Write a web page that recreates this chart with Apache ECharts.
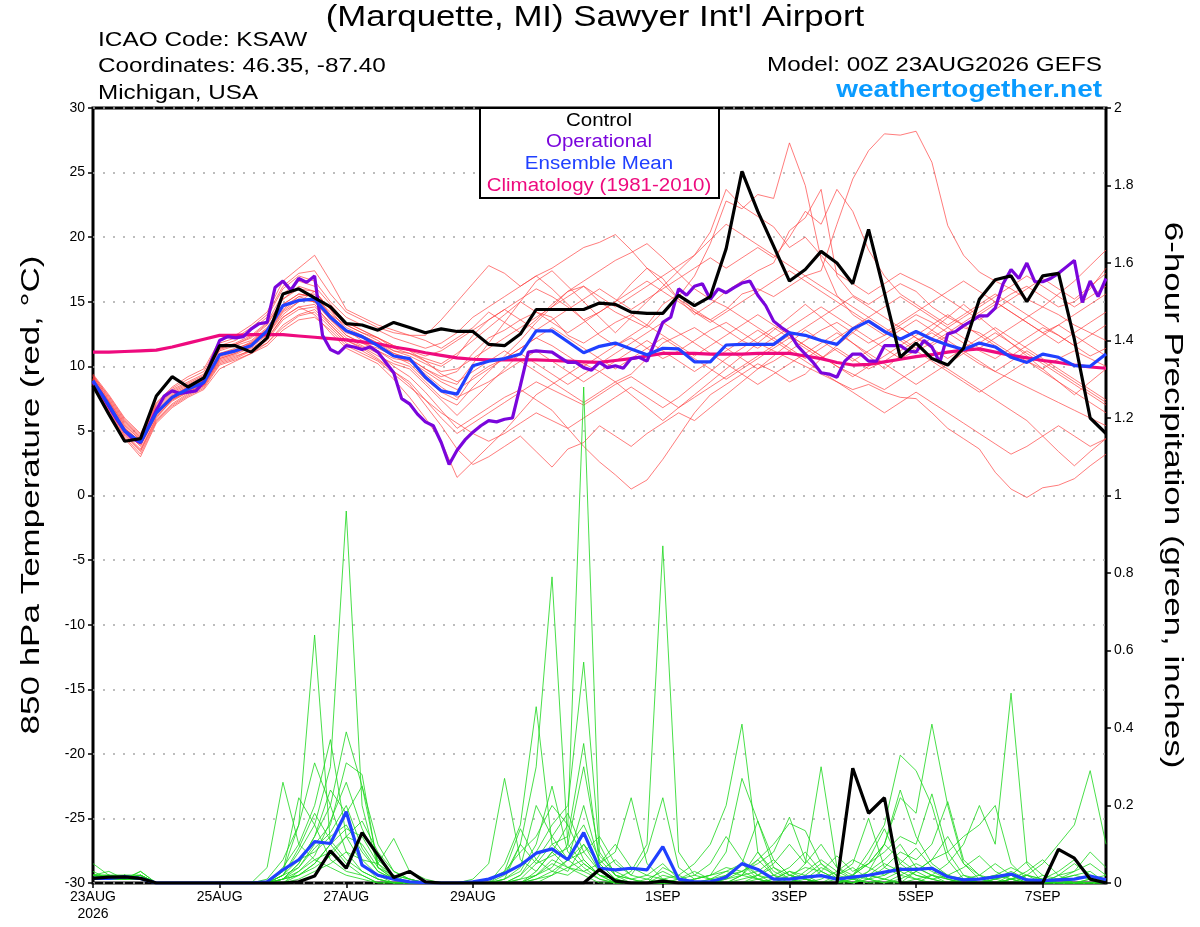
<!DOCTYPE html>
<html>
<head>
<meta charset="utf-8">
<title>KSAW GEFS 850 hPa temperature / precipitation</title>
<script src="https://cdn.jsdelivr.net/npm/echarts@6.0.0/dist/echarts.min.js"></script>
<style>
	html, body { margin: 0; padding: 0; background: #fff; }
	#main { width: 1200px; height: 927px; }
</style>
</head>
<body>
<div id="main"></div>
<script>
// forecast hours: 6-hourly for GEFS, 3-hourly for the operational run
var tickHours = [0, 48, 96, 144, 216, 264, 312, 360];
var tickNames = ['23AUG\n2026', '25AUG', '27AUG', '29AUG', '1SEP', '3SEP', '5SEP', '7SEP'];

// 850 hPa temperature, deg C (6-hourly, 0..384h)
var controlTemp = [8.5,6.3,4.2,4.4,7.7,9.2,8.4,9.1, 11.6,11.6,11.1,12.2,15.6,16.0,15.3,14.6, 13.3,13.2,12.8,13.4,13.0,12.6,12.9,12.7, 12.7,11.7,11.6,12.5,14.4,14.4,14.4,14.4, 14.9,14.8,14.2,14.1,14.1,15.5,14.7,15.4, 19.1,25.1,22.0,19.3,16.6,17.5,18.9,18.0, 16.4,20.6,15.7,10.7,11.8,10.6,10.1,11.4, 15.2,16.7,17.0,15.0,17.0,17.2,12.1,6.0,4.8];
var meanTemp = [8.9,7.0,5.0,4.1,6.4,7.6,8.25,8.75, 10.9,11.2,11.6,12.75,14.7,15.1,15.2,13.8, 12.75,12.3,11.6,10.8,10.6,9.15,8.1,7.85, 10.05,10.4,10.6,10.95,12.75,12.75,11.9,11.05, 11.55,11.8,11.35,10.9,11.4,11.35,10.35,10.35, 11.65,11.7,11.7,11.7,12.6,12.4,12.0,11.7, 12.9,13.5,12.7,12.1,12.7,12.1,11.65,11.3, 11.8,11.5,10.7,10.3,10.95,10.7,10.05,10.0,10.95];
var climTemp = [11.1,11.1,11.15,11.2,11.25,11.5,11.8,12.1, 12.4,12.4,12.45,12.45,12.45,12.35,12.25,12.15, 12.05,11.9,11.75,11.5,11.3,11.05,10.85,10.65, 10.55,10.5,10.5,10.5,10.5,10.45,10.4,10.35, 10.3,10.45,10.6,10.8,11.0,11.0,11.0,10.95, 10.95,10.95,11.0,11.0,11.0,10.8,10.6,10.3, 10.1,10.15,10.35,10.55,10.75,10.9,11.1,11.25, 11.35,11.1,10.85,10.65,10.45,10.3,10.1,9.95,9.85];
// operational run, 3-hourly
var opTemp = [8.8,7.9,6.9,5.9,5.0,4.4,4.1,5.3,6.6,7.7, 8.1,7.9,8.0,8.1,8.8,10.5,12.0,12.3,12.2,12.3, 12.9,13.3,13.4,16.1,16.6,15.9,16.8,16.5,17.0,12.4, 11.3,11.0,11.6,11.5,11.3,11.5,11.1,10.3,9.5,7.5, 7.1,6.3,5.7,5.4,4.1,2.4,3.5,4.3,4.9,5.4, 5.8,5.7,5.9,6.0,8.5,11.1,11.2,11.15,11.1,10.7, 10.3,10.3,9.9,9.7,10.3,9.9,10.05,9.85,10.6,10.7, 10.4,11.9,13.4,13.8,16.0,15.5,16.2,16.4,15.2,16.0, 15.7,16.1,16.45,16.6,15.5,14.7,13.5,13.0,12.6,11.6, 10.95,10.3,9.5,9.4,9.15,10.4,10.95,10.95,10.4,10.4, 11.6,11.6,11.6,11.2,11.1,12.0,11.5,10.3,12.5,12.7, 13.15,13.5,13.9,13.9,14.5,16.4,17.5,16.8,18.0,16.55, 16.55,16.8,17.2,17.7,18.2,14.95,16.6,15.4,16.8];

// ensemble members, 850 hPa temperature
var mem01 = [9.0,7.2,5.3,4.0,6.6,7.8,8.4,9.0, 11.2,11.6,12.0,13.0,14.8,15.6,15.4,14.2, 13.0,12.4,11.8,11.0,10.6,9.8,9.2,9.6, 11.0,12.2,12.8,13.6,14.2,13.8,12.4,11.8, 12.6,13.4,14.0,13.2,14.8,15.6,14.2,13.6, 14.4,15.6,16.0,15.4,16.2,17.0,17.4,21.0, 24.5,26.7,28.0,27.9,28.2,25.8,20.9,18.6, 17.3,16.6,16.0,15.2,14.6,14.0,13.2,12.6,12.0];
var mem02 = [8.7,6.8,4.8,3.6,6.0,7.4,8.1,8.6, 10.6,11.0,11.8,12.4,14.0,15.0,15.8,14.4, 12.8,12.0,11.2,10.4,10.0,8.8,7.6,7.0, 8.4,9.6,10.8,12.0,13.4,14.6,15.8,16.2, 15.0,14.2,13.6,13.0,14.2,15.4,17.0,19.5, 22.8,22.2,23.3,23.0,27.3,24.0,18.3,15.5, 14.0,13.2,12.4,13.0,12.2,11.6,12.4,13.0, 12.6,11.8,11.0,10.4,9.8,10.6,11.2,10.6,10.0];
var mem03 = [9.2,7.4,5.6,4.4,6.8,8.0,8.6,9.2, 11.4,11.8,12.4,13.4,15.6,16.6,16.2,14.8, 13.4,12.8,12.2,11.4,11.0,10.4,10.0,10.8, 12.4,13.6,14.4,15.2,16.0,15.4,14.6,13.6, 14.2,15.0,16.4,17.6,16.8,15.2,14.0,14.8, 15.8,16.6,17.4,18.0,20.5,21.5,23.7,17.0, 15.5,14.8,15.6,16.4,15.8,14.6,13.8,13.2, 14.0,14.8,15.6,16.2,15.4,14.6,15.0,16.0,17.6];
var mem04 = [8.8,7.0,5.0,3.8,6.2,7.4,8.0,8.6, 10.4,10.8,11.2,12.0,13.6,14.4,14.6,13.4, 12.2,11.6,11.0,10.0,9.2,8.0,6.6,5.2, 6.0,6.8,7.6,8.2,7.4,6.6,5.2,3.8, 2.6,1.6,0.5,1.2,2.8,4.6,6.4,7.8, 8.6,9.4,10.2,9.6,8.8,9.4,10.6,11.4, 10.6,9.8,10.4,11.2,12.0,12.6,11.8,11.0, 10.2,9.6,9.0,8.4,7.8,7.2,6.6,6.0,5.4];
var mem05 = [8.9,7.0,5.2,4.2,6.4,7.6,8.2,8.8, 10.8,11.2,11.4,12.2,13.8,14.6,14.0,12.6, 11.4,10.8,10.2,9.0,7.6,6.0,4.2,1.4, 2.6,3.8,5.0,6.4,7.8,8.6,9.4,10.2, 9.6,8.8,9.4,10.6,11.8,12.4,13.0,12.2, 11.4,10.6,9.8,10.4,11.2,12.0,12.8,13.4, 12.6,11.8,12.4,13.2,14.0,13.4,12.6,11.8, 11.2,10.6,11.4,12.2,13.0,12.4,11.6,10.8,11.4];
var mem06 = [9.1,7.3,5.4,4.3,6.5,7.7,8.3,8.9, 11.0,11.4,11.8,12.8,14.6,15.2,15.0,13.6, 12.6,12.2,11.6,10.8,10.2,9.0,8.0,7.4, 9.2,10.0,10.6,11.4,12.2,11.6,10.8,10.0, 10.8,11.6,12.2,11.4,10.6,11.2,12.0,12.8, 13.4,12.6,11.8,11.2,10.6,10.0,9.4,8.8, 8.2,8.6,8.0,7.6,7.5,6.4,5.2,4.4, 3.6,1.8,0.5,-0.15,0.6,0.8,1.3,2.3,3.2];
var mem07 = [8.6,6.6,4.6,3.4,5.8,7.0,7.8,8.4, 10.2,10.6,11.2,11.8,13.2,14.0,14.4,13.2, 12.0,11.4,10.6,9.6,8.8,7.4,6.0,4.8, 5.6,6.4,7.2,8.0,8.8,8.2,7.6,7.0, 7.8,8.6,9.2,8.4,7.6,6.8,7.6,8.4, 9.2,10.0,10.8,11.6,12.4,11.6,10.8,10.0, 9.4,8.8,8.2,9.0,9.8,10.6,9.8,9.0, 8.2,7.4,6.6,5.8,4.6,3.4,2.3,3.4,4.4];
var mem08 = [9.3,7.6,5.8,4.6,7.0,8.2,8.8,9.4, 11.6,12.0,12.8,13.8,16.0,17.0,16.6,15.0, 13.8,13.2,12.8,12.2,11.8,11.4,11.8,12.6, 13.8,14.6,15.4,16.2,17.0,17.6,18.4,19.2, 19.6,20.2,19.0,17.6,16.4,15.2,14.4,13.6, 12.8,12.0,11.4,12.2,13.0,13.8,14.6,13.8, 13.0,12.2,11.4,10.6,11.2,11.8,12.6,13.4, 14.2,15.0,14.2,13.4,12.6,13.2,14.0,14.8,15.6];
var mem09 = [9.4,7.8,6.0,4.8,7.2,8.4,9.2,9.8, 12.0,12.4,13.2,14.2,16.6,17.6,18.6,16.6, 14.4,13.8,13.2,12.8,12.4,12.0,11.4,12.2, 13.0,14.2,13.4,12.6,13.6,14.8,15.8,16.6, 17.4,18.2,18.8,19.5,18.4,17.2,16.0,15.2, 14.6,13.8,13.0,12.2,11.4,10.6,11.4,12.2, 13.0,13.8,14.6,15.4,14.6,13.8,13.0,12.2, 11.4,12.2,13.0,13.8,14.6,15.6,16.6,17.8,19.0];
var mem10 = [8.5,6.4,4.4,3.0,5.6,6.8,7.6,8.2, 9.8,10.4,11.0,11.6,12.8,13.6,13.8,12.8, 11.6,11.0,10.4,9.4,8.4,7.4,6.4,5.6, 4.8,4.2,4.8,5.6,6.4,5.8,5.2,6.0, 6.8,7.6,8.4,7.6,6.8,7.6,8.6,9.6, 10.6,11.4,12.2,13.0,12.2,11.4,10.6,11.6, 12.6,13.6,12.8,12.0,11.2,10.4,9.6,8.8, 8.0,8.8,9.6,10.4,9.6,8.8,8.0,7.2,6.4];
var mem11 = [9.0,7.1,5.1,4.1,6.3,7.5,8.2,8.7, 10.7,11.1,11.7,12.6,14.4,15.4,15.6,14.0, 13.2,12.6,12.0,11.2,10.8,10.2,9.6,9.8, 10.6,11.4,12.2,13.0,13.8,14.6,15.4,16.2, 15.4,14.6,15.4,16.2,17.0,17.8,18.6,20.4, 23.7,22.4,21.6,20.8,19.2,20.0,18.6,17.2, 16.4,15.6,16.4,17.2,16.6,16.0,15.2,14.4, 13.6,14.4,15.2,16.0,16.8,16.0,15.2,16.2,17.2];
var mem12 = [8.8,6.9,4.9,3.9,6.1,7.3,8.0,8.5, 10.5,10.9,11.5,12.4,14.2,15.0,15.2,13.8, 12.4,11.8,11.2,10.6,10.4,9.6,8.8,8.2, 9.0,9.8,10.6,11.4,12.2,13.0,12.2,11.4, 10.6,9.8,10.6,11.4,12.2,11.4,10.6,9.8, 9.0,9.8,10.6,11.4,12.2,13.0,13.8,14.6, 15.4,14.6,13.8,13.0,12.2,11.4,10.6,11.4, 12.2,13.0,12.2,11.4,10.6,9.8,9.0,8.2,7.4];
var mem13 = [9.1,7.2,5.2,4.2,6.5,7.7,8.4,8.9, 11.0,11.3,11.9,12.9,14.6,15.4,15.0,13.8, 12.8,12.4,11.8,11.2,11.0,10.6,10.2,11.0, 12.0,13.0,14.0,15.0,14.2,13.4,12.6,13.4, 14.2,15.0,15.8,16.6,15.8,15.0,14.2,13.4, 14.2,15.0,15.8,16.6,17.4,16.6,15.8,15.0, 14.2,13.4,12.6,13.4,14.2,15.0,15.8,16.6, 15.8,15.0,14.2,13.4,12.6,11.8,12.6,13.4,14.2];
var mem14 = [8.7,6.7,4.7,3.5,5.9,7.1,7.9,8.5, 10.3,10.7,11.3,12.1,13.8,14.6,14.8,13.2, 12.0,11.5,10.8,10.2,9.8,8.6,7.4,6.2, 7.4,8.6,9.8,11.0,10.2,9.4,8.6,9.4, 10.2,11.0,11.8,12.6,13.4,12.6,11.8,11.0, 10.2,9.4,8.6,9.4,10.2,11.0,11.8,12.6, 11.8,11.0,10.2,9.4,8.6,9.4,10.2,11.0, 11.8,12.6,11.8,11.0,10.2,9.4,8.6,7.8,7.0];
var mem15 = [9.2,7.5,5.7,4.5,6.9,8.1,8.7,9.3, 11.4,11.7,12.2,13.2,15.2,16.2,15.8,14.4, 13.2,12.6,12.2,11.6,11.2,10.4,9.4,8.8, 9.6,10.4,11.2,10.4,9.6,8.8,8.0,7.2, 8.0,8.8,7.8,6.8,5.8,6.8,7.8,8.8, 9.8,10.8,11.8,12.8,13.8,14.8,13.8,12.8, 11.8,10.8,9.8,10.8,11.8,12.8,13.8,14.8, 13.8,12.8,11.8,10.8,9.8,8.8,7.8,8.8,9.8];
var mem16 = [8.9,7.0,5.0,4.0,6.3,7.5,8.2,8.7, 10.8,11.2,11.8,12.9,14.8,15.6,15.4,14.0, 12.8,12.2,11.6,11.0,10.6,9.8,9.0,8.6, 10.2,11.8,13.4,15.0,16.6,17.4,16.2,15.0, 13.8,12.6,13.8,15.0,16.2,17.4,18.6,19.8, 21.0,20.2,19.4,18.6,17.8,17.0,16.2,15.4, 14.6,13.8,13.0,12.2,11.4,12.2,13.0,13.8, 14.6,15.4,16.2,17.0,16.2,15.4,14.6,15.4,16.2];
var mem17 = [8.6,6.5,4.5,3.2,5.7,6.9,7.7,8.3, 10.1,10.5,11.0,11.8,13.0,13.9,14.2,13.0, 11.8,11.2,10.5,9.6,8.6,7.0,5.4,3.6, 2.4,3.0,3.8,4.6,3.4,2.2,3.6,4.1, 5.4,4.6,3.8,4.8,5.6,6.4,5.8,6.8, 7.8,8.8,9.8,10.8,11.8,12.8,12.0,11.2, 10.4,11.2,12.0,12.8,13.6,12.8,12.0,11.2, 10.4,9.6,10.4,11.2,10.4,9.6,8.8,8.0,7.2];
var mem18 = [9.3,7.7,5.9,4.7,7.1,8.3,9.0,9.6, 11.8,12.2,13.0,14.0,16.2,17.2,17.4,15.6, 14.2,13.6,13.0,12.6,12.4,12.4,13.6,15.0, 16.4,17.8,17.2,16.2,17.0,16.0,14.8,13.6, 12.4,11.6,12.4,13.2,12.4,11.6,10.8,11.6, 12.4,13.2,14.0,13.2,12.4,11.6,10.8,10.0, 9.2,10.0,10.8,11.6,12.4,13.2,14.0,13.2, 12.4,11.6,10.8,11.6,12.4,13.2,12.4,11.6,10.8];
var mem19 = [8.9,7.1,5.1,4.0,6.3,7.5,8.1,8.7, 10.6,11.0,11.6,12.5,14.3,15.2,15.0,13.6, 12.4,11.8,11.4,10.8,10.4,9.4,8.4,7.6, 8.2,8.8,9.6,10.4,11.2,10.4,9.6,8.8, 9.6,10.4,11.2,12.0,11.2,10.4,9.6,10.4, 11.2,12.0,12.8,12.0,11.2,10.4,9.6,8.8, 8.0,7.2,6.4,7.2,8.0,7.2,6.4,5.6, 4.8,4.0,3.2,3.8,4.6,5.4,4.6,3.8,4.4];
var mem20 = [9.0,7.3,5.5,4.3,6.7,7.9,8.5,9.1, 11.3,11.7,12.3,13.3,15.2,16.0,15.8,14.4, 13.4,12.8,12.2,11.6,11.2,10.8,11.2,12.0, 12.8,13.6,14.4,13.6,12.8,13.6,14.4,15.2, 16.0,15.2,14.4,15.2,16.0,16.8,17.6,18.4, 17.6,18.4,19.2,18.4,20.0,22.0,21.0,23.7, 22.0,19.0,17.0,15.6,14.8,14.0,13.2,14.0, 14.8,15.6,14.8,14.0,13.2,12.4,11.6,12.4,13.2];
var tempMembers = [mem01, mem02, mem03, mem04, mem05, mem06, mem07, mem08, mem09, mem10, mem11, mem12, mem13, mem14, mem15, mem16, mem17, mem18, mem19, mem20];

// 6-hour precipitation, inches
var controlPrcp = [0.012,0.015,0.016,0.012,0,0,0,0, 0,0,0,0,0,0.003,0.018,0.083, 0.038,0.13,0.072,0.014,0.03,0.003,0,0, 0,0,0,0,0,0,0,0, 0.035,0.005,0,0,0.005,0,0,0, 0,0,0,0,0,0,0,0, 0.296,0.18,0.22,0,0,0,0,0, 0,0,0,0,0,0.087,0.064,0.01,0];
var meanPrcp = [0.012,0.012,0.016,0.012,0,0,0,0, 0,0,0,0.003,0.034,0.06,0.107,0.102, 0.184,0.046,0.02,0.01,0.003,0.001,0,0, 0.003,0.01,0.025,0.046,0.077,0.088,0.06,0.13, 0.038,0.034,0.038,0.034,0.094,0.01,0.003,0.003, 0.015,0.05,0.035,0.01,0.01,0.015,0.019,0.01, 0.015,0.02,0.028,0.035,0.035,0.038,0.016,0.008, 0.01,0.016,0.023,0.008,0.006,0.008,0.01,0.018,0.008];
var pcp01 = [0.02,0.01,0.02,0.01,0,0,0,0, 0,0,0,0,0.02,0.08,0.15,0.30, 0.96,0.20,0.04,0.01,0,0,0,0, 0,0.01,0.03,0.08,0.12,0.20,0.15,1.28, 0.10,0.02,0,0,0.01,0,0,0, 0.02,0.05,0.01,0,0,0.02,0.05,0.01, 0,0.03,0.10,0.22,0.18,0.41,0.20,0.05, 0.01,0,0,0,0.02,0.01,0,0,0];
var pcp02 = [0.01,0.02,0.01,0.02,0,0,0,0, 0,0,0,0,0.03,0.15,0.64,0.10, 0.05,0.02,0,0,0,0,0,0, 0,0,0.02,0.10,0.30,0.79,0.10,0.05, 0.02,0,0,0,0,0.01,0.03,0.01, 0,0,0.02,0.04,0.01,0,0,0, 0.01,0.02,0.01,0,0,0.02,0.05,0.10, 0.20,0.10,0.49,0.05,0,0,0,0.01,0];
var pcp03 = [0.05,0.02,0.01,0.03,0,0,0,0, 0,0,0,0,0.04,0.10,0.20,0.37, 0.12,0.05,0.01,0,0,0,0,0, 0,0,0.05,0.15,0.455,0.10,0.06,0.20, 0.05,0.01,0,0,0,0,0,0, 0,0.02,0.06,0.02,0,0,0.03,0.01, 0.02,0.08,0.15,0.33,0.29,0.20,0.06,0.01, 0,0,0,0,0,0.01,0.02,0.03,0];
var pcp04 = [0.02,0.02,0.01,0.02,0,0,0,0, 0,0,0,0,0.01,0.05,0.12,0.20, 0.39,0.25,0.05,0.01,0,0,0,0, 0,0,0,0.02,0.08,0.15,0.20,0.57, 0.08,0.02,0.01,0,0,0,0,0, 0,0.01,0.02,0.05,0.10,0.05,0.30,0.04, 0.01,0,0,0.02,0.04,0.02,0,0, 0,0.01,0.02,0,0,0,0,0,0];
var pcp05 = [0.01,0.01,0.02,0.01,0,0,0,0, 0,0,0,0.01,0.06,0.15,0.31,0.20, 0.08,0.03,0.01,0,0,0,0,0, 0,0,0,0.01,0.05,0.10,0.12,0.36, 0.05,0.01,0,0,0.02,0.01,0,0, 0,0,0,0.01,0.03,0.02,0,0, 0.02,0.05,0.08,0.12,0.10,0.23,0.08,0.02, 0,0,0.01,0,0,0.02,0.05,0.02,0];
var pcp06 = [0.03,0.01,0.01,0.02,0,0,0,0, 0,0,0,0.04,0.26,0.10,0.06,0.04, 0.02,0.01,0,0,0,0,0,0, 0.01,0.05,0.27,0.06,0.03,0.08,0.04,0.02, 0,0,0,0,0,0,0,0.01, 0.03,0.05,0.02,0,0,0.01,0.04,0.02, 0.05,0.167,0.04,0.02,0.01,0,0,0, 0.01,0.02,0.04,0.02,0,0,0,0,0];
var pcp07 = [0.01,0.02,0.02,0.01,0,0,0,0, 0,0,0,0,0.03,0.22,0.15,0.06, 0.03,0.02,0,0,0,0,0,0, 0,0,0.01,0.03,0.10,0.25,0.08,0.04, 0.01,0,0,0,0,0,0,0, 0.01,0.03,0.01,0,0,0.03,0.06,0.03, 0.01,0.02,0.01,0,0.03,0.06,0.08,0.12, 0.15,0.20,0.05,0.01,0,0,0,0,0];
var pcp08 = [0.02,0.01,0.01,0.03,0,0,0,0, 0,0,0,0,0.02,0.04,0.10,0.15, 0.31,0.28,0.04,0.01,0,0,0,0, 0,0,0,0,0.01,0.03,0.06,0.10, 0.05,0.08,0.22,0.05,0.01,0.02,0.05,0.10, 0.20,0.41,0.08,0.02,0.01,0,0,0.02, 0.04,0.01,0,0,0.01,0.02,0.01,0, 0,0,0.01,0.02,0.01,0,0,0,0.01];
var pcp09 = [0.01,0.01,0.02,0.02,0,0,0,0, 0,0,0,0,0,0.02,0.05,0.10, 0.18,0.25,0.10,0.03,0.01,0,0,0, 0,0,0,0,0.01,0.02,0.04,0.06, 0.02,0.01,0.03,0.10,0.87,0.08,0.02,0.01, 0,0,0,0.01,0.03,0.01,0,0, 0,0.01,0.02,0.04,0.02,0.01,0,0.02, 0.01,0,0.01,0.02,0.05,0.10,0.15,0.29,0.10];
var pcp10 = [0.02,0.03,0.01,0.01,0,0,0,0, 0,0,0,0,0.01,0.05,0.12,0.24, 0.18,0.06,0.02,0,0,0,0,0, 0,0,0,0,0.02,0.05,0.03,0.10, 0.03,0.06,0.02,0.08,0.22,0.04,0.01,0.02, 0.08,0.27,0.16,0.04,0.02,0.01,0,0, 0.01,0.03,0.06,0.10,0.04,0.02,0.01,0, 0,0,0.02,0.055,0.02,0,0,0.01,0.02];
var pcp11 = [0.01,0.01,0.01,0.01,0,0,0,0, 0,0,0,0,0,0.01,0.03,0.05, 0.08,0.06,0.05,0.115,0.03,0.01,0,0, 0,0,0.03,0.14,0.06,0.03,0.02,0.05, 0.02,0.01,0,0,0,0,0.01,0.02, 0.04,0.03,0.06,0.10,0.154,0.135,0.05,0.02, 0.01,0,0.01,0.03,0.05,0.03,0.01,0, 0,0.01,0.03,0.01,0,0,0,0,0];
var pcp12 = [0.02,0.01,0.02,0.01,0,0,0,0, 0,0,0,0,0.02,0.06,0.08,0.12, 0.15,0.08,0.03,0.01,0,0,0,0, 0,0,0,0.01,0.02,0.06,0.04,0.03, 0.05,0.10,0.04,0.02,0.01,0,0,0, 0.02,0.05,0.16,0.06,0.02,0.01,0,0, 0.02,0.05,0.10,0.24,0.12,0.05,0.02,0, 0,0.01,0.02,0.01,0,0.01,0.02,0.01,0];
var pcp13 = [0.01,0.02,0.01,0.02,0,0,0,0, 0,0,0,0,0.01,0.03,0.06,0.08, 0.12,0.10,0.04,0.02,0.01,0,0,0, 0,0,0,0,0.03,0.08,0.15,0.06, 0.02,0,0,0.01,0.03,0.01,0,0.01, 0.02,0.03,0.05,0.08,0.17,0.06,0.02,0.01, 0,0.01,0.04,0.08,0.06,0.10,0.21,0.06, 0.02,0,0,0.02,0.01,0,0,0,0];
var pcp14 = [0.02,0.02,0.02,0.02,0,0,0,0, 0,0,0,0,0.01,0.02,0.05,0.10, 0.14,0.12,0.05,0.02,0.01,0,0,0, 0,0,0,0,0,0.02,0.06,0.08, 0.12,0.05,0.02,0.01,0,0,0.01,0.02, 0.03,0.02,0.01,0,0.02,0.04,0.03,0.07, 0.03,0.05,0.10,0.06,0.03,0.01,0,0, 0.01,0.02,0.01,0,0,0.02,0.03,0.05,0.02];
var pcp15 = [0.01,0.02,0.01,0.01,0,0,0,0, 0,0,0,0,0.01,0.04,0.09,0.13, 0.20,0.09,0.03,0.01,0,0,0,0, 0,0,0.01,0.10,0.05,0.07,0.09,0.15, 0.06,0.02,0.01,0,0,0.01,0.02,0.05, 0.12,0.06,0.02,0.01,0,0,0.01,0.03, 0.06,0.04,0.02,0.05,0.09,0.04,0.02,0.01, 0,0,0.01,0.03,0.06,0.02,0,0,0];
var pcp16 = [0.02,0.01,0.01,0.02,0,0,0,0, 0,0,0,0,0,0.03,0.07,0.16, 0.26,0.14,0.06,0.02,0,0,0,0, 0,0,0,0.02,0.06,0.12,0.18,0.08, 0.03,0.01,0,0,0.04,0.02,0,0, 0,0.02,0.08,0.03,0.01,0.05,0.10,0.04, 0.02,0.01,0,0.01,0.03,0.06,0.12,0.05, 0.02,0.01,0,0,0,0.01,0.03,0.08,0.04];
var pcp17 = [0.01,0.01,0.02,0.01,0,0,0,0, 0,0,0,0,0.02,0.09,0.18,0.11, 0.06,0.03,0.01,0,0,0,0,0, 0,0,0.01,0.04,0.20,0.12,0.06,0.03, 0.01,0,0,0,0,0,0,0, 0.01,0.02,0.03,0.06,0.02,0.01,0,0.01, 0.02,0.06,0.14,0.05,0.02,0.01,0.02,0.04, 0.07,0.03,0.01,0,0,0,0.01,0.02,0];
var pcp18 = [0.02,0.02,0.01,0.01,0,0,0,0, 0,0,0,0,0.01,0.02,0.04,0.07, 0.12,0.16,0.08,0.03,0.01,0,0,0, 0,0,0,0,0.02,0.04,0.10,0.30, 0.07,0.03,0.01,0.02,0.05,0.01,0,0, 0,0,0.01,0.02,0.04,0.08,0.03,0.01, 0,0.02,0.05,0.03,0.01,0,0,0.01, 0.02,0.05,0.02,0,0.01,0.03,0.06,0.02,0];
var prcpMembers = [pcp01, pcp02, pcp03, pcp04, pcp05, pcp06, pcp07, pcp08, pcp09, pcp10, pcp11, pcp12, pcp13, pcp14, pcp15, pcp16, pcp17, pcp18];

var FONT = "'Liberation Sans', Arial, Helvetica, sans-serif";

function pairs(arr, step) {
	var out = [];
	for (var i = 0; i < arr.length; i++) {
		out.push([i * step, arr[i]]);
	}
	return out;
}

function thinLine(name, data, axis, color) {
	return {
		name: name,
		type: 'line',
		yAxisIndex: axis,
		data: data,
		showSymbol: false,
		silent: true,
		z: 2,
		lineStyle: { color: color, width: 0.9 }
	};
}

function boldLine(name, data, axis, color, z) {
	return {
		name: name,
		type: 'line',
		yAxisIndex: axis,
		data: data,
		showSymbol: false,
		silent: true,
		z: z,
		lineStyle: { color: color, width: 3.2 }
	};
}

// header / legend text, stretched sideways like the original plot's font
function label(x, y, text, size, color, align, sx, extra) {
	var el = {
		type: 'text',
		x: x,
		y: y,
		scaleX: sx,
		z: 101,
		style: { text: text, font: size + 'px ' + FONT, fill: color, textAlign: align, textVerticalAlign: 'middle' }
	};
	if (extra) {
		for (var k in extra) el[k] = extra[k];
	}
	return el;
}

var series = [];
for (var m = 0; m < tempMembers.length; m++) {
	series.push(thinLine('t' + m, pairs(tempMembers[m], 6), 0, 'rgba(255,60,60,0.75)'));
}
for (var p = 0; p < prcpMembers.length; p++) {
	series.push(thinLine('p' + p, pairs(prcpMembers[p], 6), 1, 'rgba(30,215,30,0.9)'));
}
series.push(boldLine('Climatology', pairs(climTemp, 6), 0, '#ee0a7e', 4));
series.push(boldLine('Operational', pairs(opTemp, 3), 0, '#7a05dc', 5));
series.push(boldLine('Ensemble Mean', pairs(meanTemp, 6), 0, '#2040ff', 6));
series.push(boldLine('Control', pairs(controlTemp, 6), 0, '#000000', 7));
series.push(boldLine('Mean precip', pairs(meanPrcp, 6), 1, '#2040ff', 6));
series.push(boldLine('Control precip', pairs(controlPrcp, 6), 1, '#000000', 7));

var myChart = echarts.init(document.getElementById('main'));

var option = {
	animation: false,
	backgroundColor: '#fff',
	textStyle: { fontFamily: FONT },
	grid: {
		left: 93,
		right: 94,
		top: 108,
		bottom: 44,
		show: true,
		borderColor: '#000',
		borderWidth: 3,
		backgroundColor: 'transparent'
	},
	xAxis: {
		type: 'value',
		min: 0,
		max: 384,
		splitLine: { show: false },
		axisLine: { show: false, onZero: false },
		axisTick: { show: true, customValues: tickHours, length: 5, lineStyle: { color: '#000', width: 1.5 } },
		axisLabel: {
			customValues: tickHours,
			color: '#000',
			fontSize: 14,
			lineHeight: 17,
			margin: 6,
			formatter: function(v) {
				var k = tickHours.indexOf(v);
				return k >= 0 ? tickNames[k] : '';
			}
		}
	},
	yAxis: [{
		type: 'value',
		position: 'left',
		min: -30,
		max: 30,
		interval: 5,
		axisLine: { show: false },
		axisTick: { show: true, length: 5, lineStyle: { color: '#000', width: 1.5 } },
		axisLabel: { color: '#000', fontSize: 14, margin: 8 },
		splitLine: { show: true, lineStyle: { color: '#a8a8a8', width: 1.5, type: [2, 8] } }
	}, {
		type: 'value',
		position: 'right',
		min: 0,
		max: 2,
		interval: 0.2,
		axisLine: { show: false },
		axisTick: { show: true, length: 5, lineStyle: { color: '#000', width: 1.5 } },
		axisLabel: { color: '#000', fontSize: 14, margin: 8 },
		splitLine: { show: false }
	}],
	graphic: [
		label(595, 18, "(Marquette, MI) Sawyer Int'l Airport", 29, '#000', 'center', 1.2),
		label(98, 40, 'ICAO Code: KSAW', 20, '#000', 'left', 1.22),
		label(98, 66, 'Coordinates: 46.35, -87.40', 20, '#000', 'left', 1.215),
		label(98, 93, 'Michigan, USA', 20, '#000', 'left', 1.21),
		label(1102, 65, 'Model: 00Z 23AUG2026 GEFS', 20, '#000', 'right', 1.215),
		label(1102, 90, 'weathertogether.net', 'bold 24', '#0a9bff', 'right', 1.165),
		label(32, 495, '850 hPa Temperature (red, \u00b0C)', 25, '#000', 'center', 1.4, { rotation: Math.PI / 2 }),
		label(1172, 495, '6-hour Precipitation (green, inches)', 25, '#000', 'center', 1.4, { rotation: -Math.PI / 2 }),
		{ type: 'rect', z: 100, shape: { x: 480, y: 108, width: 239, height: 90 }, style: { fill: '#fff', stroke: '#000', lineWidth: 2 } },
		label(599, 121, 'Control', 18, '#000', 'center', 1.14),
		label(599, 142, 'Operational', 18, '#7a05dc', 'center', 1.14),
		label(599, 164, 'Ensemble Mean', 18, '#2040ff', 'center', 1.14),
		label(599, 186, 'Climatology (1981-2010)', 18, '#ee0a7e', 'center', 1.14)
	],
	series: series
};

myChart.setOption(option);
</script>
</body>
</html>
